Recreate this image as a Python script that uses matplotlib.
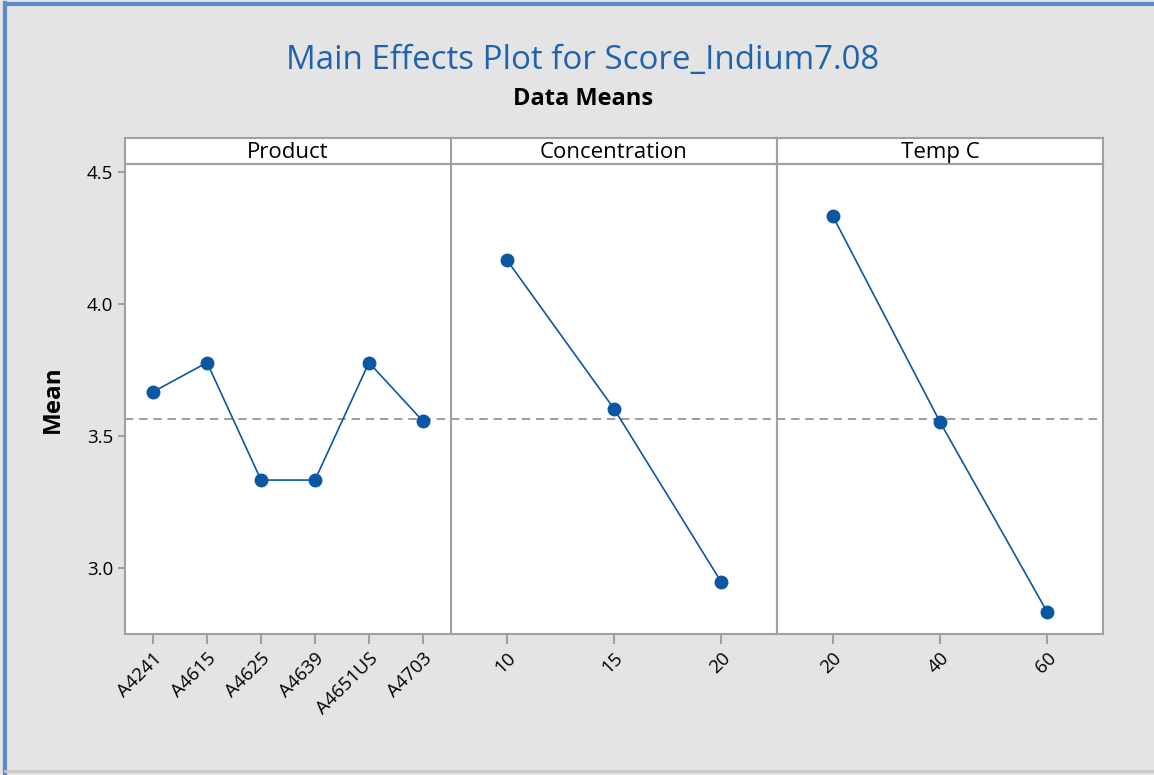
import matplotlib
matplotlib.use('Agg')
import matplotlib.pyplot as plt
from matplotlib.lines import Line2D

plt.rcParams['font.family'] = ['Open Sans', 'DejaVu Sans']

# data
products = ['A4241', 'A4615', 'A4625', 'A4639', 'A4651US', 'A4703']
product_means = [3.667, 3.778, 3.333, 3.333, 3.778, 3.556]
concentrations = ['10', '15', '20']
concentration_means = [4.167, 3.603, 2.947]
temps = ['20', '40', '60']
temp_means = [4.333, 3.553, 2.833]
grand_mean = 3.563

panels = [('Product', products, product_means),
          ('Concentration', concentrations, concentration_means),
          ('Temp C', temps, temp_means)]

W, H = 1154, 775
fig = plt.figure(figsize=(W / 100, H / 100), dpi=100)
fig.patch.set_facecolor('#e4e4e4')

# window-ish border lines
fig.add_artist(Line2D([5 / W, 5 / W], [0, 1 - 3 / H], color='#5b8ac6', lw=3))
fig.add_artist(Line2D([5 / W, 1], [1 - 4 / H, 1 - 4 / H], color='#5b8ac6', lw=3))
fig.add_artist(Line2D([5 / W, 1], [4 / H, 4 / H], color='#c8c8c8', lw=2))

fig.text(583 / W, 1 - 60 / H, 'Main Effects Plot for Score_Indium7.08',
         color='#1f63ae', fontsize=23.8, ha='center', va='center')
fig.text(583 / W, 1 - 99 / H, 'Data Means', color='black', fontsize=17,
         fontweight='bold', ha='center', va='center')

gray = '#a0a0a0'
blue = '#0b57a4'
left, top, bottom = 125, 164, 634
pw = 326
strip_h = 26

axes = []
for i, (name, labels, means) in enumerate(panels):
    x0 = left + i * pw
    ax = fig.add_axes([x0 / W, 1 - bottom / H, pw / W, (bottom - top) / H])
    axes.append(ax)
    xs = list(range(len(labels)))
    ax.plot(xs, means, color=blue, lw=1.2, marker='o', markersize=9,
            markerfacecolor=blue, markeredgecolor=blue, zorder=3)
    ax.axhline(grand_mean, color='#8c8c8c', lw=1.2, ls=(0, (5, 3.5)), zorder=2)
    ax.set_xlim(-0.52, len(labels) - 1 + 0.52)
    ax.set_ylim(2.75, 4.53)
    ax.set_xticks(xs)
    ax.set_xticklabels(labels, rotation=45, ha='right', va='top',
                       rotation_mode='anchor', fontsize=13.5)
    ax.set_yticks([3.0, 3.5, 4.0, 4.5])
    ax.tick_params(axis='x', length=7, width=1.5, color=gray, pad=4)
    ax.tick_params(axis='y', length=5, width=1.5, color=gray, labelsize=13.5)
    if i > 0:
        ax.tick_params(axis='y', left=False, labelleft=False)
    for s in ax.spines.values():
        s.set_color(gray)
        s.set_linewidth(1.5)
    # strip header
    sx = fig.add_axes([x0 / W, 1 - top / H, pw / W, strip_h / H])
    sx.set_xticks([])
    sx.set_yticks([])
    sx.set_facecolor('white')
    for s in sx.spines.values():
        s.set_color(gray)
        s.set_linewidth(1.5)
    sx.text(0.5, 0.45, name, ha='center', va='center', fontsize=16,
            transform=sx.transAxes)

axes[0].set_yticklabels(['3.0', '3.5', '4.0', '4.5'])
axes[0].set_ylabel('Mean', fontsize=17.5, fontweight='bold', labelpad=16)

fig.savefig('out.png', dpi=100, facecolor=fig.get_facecolor())
